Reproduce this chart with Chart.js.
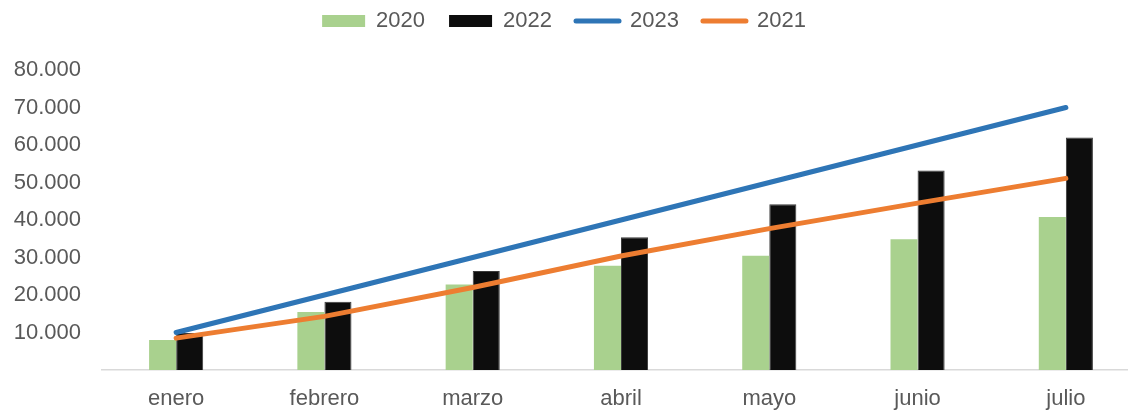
<!DOCTYPE html>
<html>
<head>
<meta charset="utf-8">
<script src="https://cdn.jsdelivr.net/npm/chart.js@4/dist/chart.umd.min.js"></script>
<style>
  html, body { margin: 0; padding: 0; background: #fff; overflow: hidden; width: 1128px; height: 413px; }
  canvas { display: block; }
</style>
</head>
<body>
<canvas id="c" width="1140" height="413" style="width:1140px;height:413px"></canvas>
<script>
const categories = ['enero', 'febrero', 'marzo', 'abril', 'mayo', 'junio', 'julio'];
const values2020 = [8000, 15500, 22800, 27800, 30500, 34900, 40800];
const values2022 = [9900, 18200, 26400, 35400, 44200, 53200, 62000];
const values2023 = [10000, 20000, 30000, 40000, 50000, 60000, 70000];
const values2021 = [8500, 14300, 22000, 30400, 37700, 44500, 51100];
const yTicks = [10000, 20000, 30000, 40000, 50000, 60000, 70000, 80000];

const textColor = '#595959';
const fontFamily = '"Liberation Sans", Arial, sans-serif';

function fmt(v) {
  return String(v).replace(/\B(?=(\d{3})+(?!\d))/g, '.');
}

const legendTweak = {
  id: 'legendTweak',
  beforeUpdate(chart) {
    const lg = chart.legend;
    if (lg && !lg._patched) {
      const orig = lg.fit.bind(lg);
      lg.fit = function () { orig(); this.height = 84; };
      lg._patched = true;
    }
  },
  afterLayout(chart) {
    const lg = chart.legend;
    if (lg) { lg.right -= 12; lg.width = lg.right - lg.left; lg.adjustHitBoxes && lg.adjustHitBoxes(); }
  }
};

new Chart(document.getElementById('c'), {
  type: 'bar',
  data: {
    labels: categories,
    datasets: [
      { type: 'bar', label: '2020', data: values2020, backgroundColor: '#A9D18E', order: 2,
        categoryPercentage: 0.365, barPercentage: 1.0 },
      { type: 'bar', label: '2022', data: values2022, backgroundColor: '#0D0D0D', order: 2,
        borderColor: '#3a3a3a', borderWidth: { top: 1, left: 1, right: 1, bottom: 0 },
        categoryPercentage: 0.365, barPercentage: 1.0 },
      { type: 'line', label: '2023', data: values2023, borderColor: '#2E75B6', backgroundColor: '#2E75B6',
        borderWidth: 5, pointRadius: 0, borderCapStyle: 'round', tension: 0, order: 1 },
      { type: 'line', label: '2021', data: values2021, borderColor: '#ED7D31', backgroundColor: '#ED7D31',
        borderWidth: 5, pointRadius: 0, borderCapStyle: 'round', tension: 0, order: 0 }
    ]
  },
  plugins: [legendTweak],
  options: {
    responsive: false,
    animation: false,
    devicePixelRatio: 1,
    layout: { padding: { top: -14, left: 0, right: 0, bottom: 0 } },
    plugins: {
      tooltip: { enabled: false },
      legend: {
        position: 'top',
        labels: {
          color: textColor,
          font: { family: fontFamily, size: 22 },
          usePointStyle: true,
          pointStyleWidth: 43,
          boxHeight: 12,
          padding: 24,
          sort: (a, b) => a.datasetIndex - b.datasetIndex,
          generateLabels(chart) {
            return chart.data.datasets.map((ds, i) => {
              const isLine = ds.type === 'line';
              return {
                text: ds.label,
                datasetIndex: i,
                hidden: false,
                fontColor: textColor,
                fillStyle: isLine ? 'rgba(0,0,0,0)' : ds.backgroundColor,
                strokeStyle: isLine ? ds.borderColor : ds.backgroundColor,
                lineWidth: isLine ? 5 : 0,
                lineCap: 'round',
                pointStyle: isLine ? 'line' : 'rect'
              };
            });
          }
        }
      }
    },
    scales: {
      x: {
        grid: { display: false, drawTicks: false },
        border: { display: true, color: '#D9D9D9', width: 1.5 },
        afterFit(scale) { scale.height = 43; },
        ticks: { color: textColor, font: { family: fontFamily, size: 22 }, padding: 16, maxRotation: 0 }
      },
      y: {
        min: 0,
        max: 80000,
        grid: { display: false, drawTicks: false },
        border: { display: false },
        afterFit(scale) { scale.width = 102; },
        afterBuildTicks(scale) { scale.ticks = yTicks.map(v => ({ value: v })); },
        ticks: {
          color: textColor,
          font: { family: fontFamily, size: 22 },
          padding: 21,
          callback: (v) => fmt(v)
        }
      }
    }
  }
});
</script>
</body>
</html>
